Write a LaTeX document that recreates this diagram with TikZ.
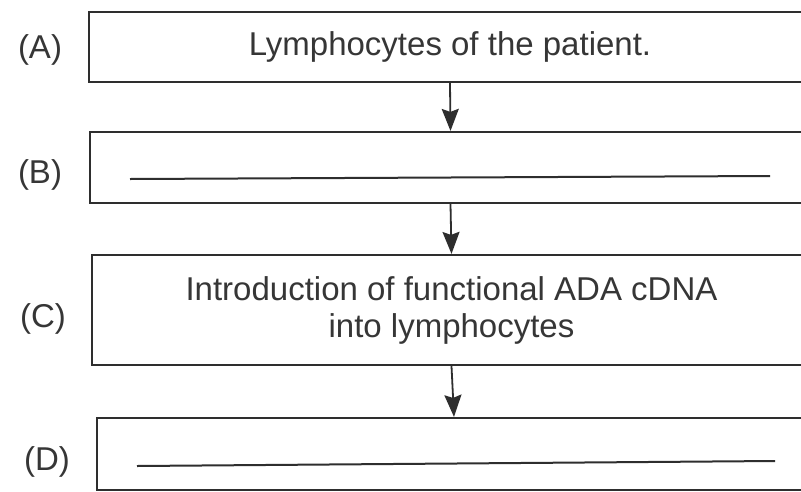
\documentclass[tikz,border=0pt]{standalone}
\usepackage{fontspec}
\setmainfont{Liberation Sans}
\usetikzlibrary{arrows.meta}
\definecolor{ink}{HTML}{363636}
\definecolor{linec}{HTML}{2E2E2E}
\begin{document}
\begin{tikzpicture}[x=1pt,y=-1pt,
  every node/.style={font=\fontsize{33}{37}\selectfont, text=ink},
  box/.style={draw=linec, line width=2.2pt, inner sep=0pt},
  flow/.style={draw=linec, line width=1.8pt, -{Stealth[length=22pt,width=17pt,inset=3pt]}},
  blank/.style={draw=linec, line width=2pt}]
\useasboundingbox (0,0) rectangle (801,491);
\clip (0,0) rectangle (801,491);
\fill[white] (0,0) rectangle (801,491);
\node[box, minimum width=722pt, minimum height=70pt] (A) at (450,47) {Lymphocytes of the patient.};
\node[box, minimum width=721pt, minimum height=71pt] (B) at (450.5,167.5) {};
\node[box, minimum width=719pt, minimum height=110pt, align=center] (C) at (451.5,310) {Introduction of functional ADA cDNA\\into lymphocytes};
\node[box, minimum width=714pt, minimum height=72pt] (D) at (454,454) {};
\node (la) at (40,50) {(A)};
\node (lb) at (40,175) {(B)};
\node (lc) at (43,319) {(C)};
\node (ld) at (47,462) {(D)};
\coordinate (b1) at (130,179);
\coordinate (b2) at (770,176);
\coordinate (d1) at (137,466);
\coordinate (d2) at (775,461);
\draw[blank] (b1) -- (b2);
\draw[blank] (d1) -- (d2);
\draw[flow] (A.south) -- (B.north);
\draw[flow] (B.south) -- (C.north);
\draw[flow] (C.south) -- (D.north);
\end{tikzpicture}
\end{document}
